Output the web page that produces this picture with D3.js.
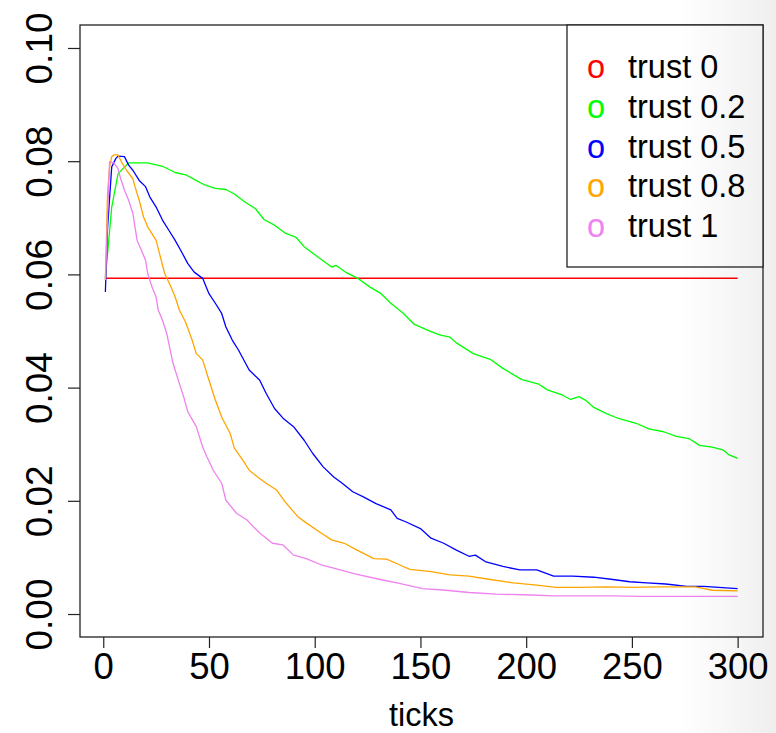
<!DOCTYPE html>
<html>
<head>
<meta charset="utf-8">
<script src="https://cdn.jsdelivr.net/npm/d3@7"></script>
<style>
  html, body { margin: 0; padding: 0; background: #fff; }
  svg { display: block; font-family: "Liberation Sans", Arial, sans-serif; }
</style>
</head>
<body>
<div id="chart"></div>
<script>
// ---------- data ----------
var legendLabels = ["trust 0", "trust 0.2", "trust 0.5", "trust 0.8", "trust 1"];
var seriesColors = ["red", "#00ff00", "blue", "orange", "violet"];

var xTickValues = [0, 50, 100, 150, 200, 250, 300];
var yTickValues = [0, 0.02, 0.04, 0.06, 0.08, 0.10];

var trust0Ticks  = [1, 300];
var trust0Values = [0.0593, 0.0593];

var trust02Ticks  = [1, 4, 7, 12, 17, 21, 28, 34, 39, 43, 48, 53, 58, 62, 67, 72, 76, 81, 86, 91, 95, 101, 108, 110, 115, 120, 126, 131, 136, 142, 147, 153, 159, 164, 167, 175, 183, 189, 198, 206, 210, 217, 221, 225, 228, 232, 238, 244, 252, 258, 265, 271, 277, 282, 288, 293, 296, 300];
var trust02Values = [0.0594, 0.0719, 0.0778, 0.0797, 0.0797, 0.0797, 0.0791, 0.0780, 0.0776, 0.0768, 0.0758, 0.0752, 0.0750, 0.0742, 0.0728, 0.0716, 0.0697, 0.0687, 0.0673, 0.0666, 0.0649, 0.0632, 0.0613, 0.0616, 0.0603, 0.0594, 0.0578, 0.0567, 0.0549, 0.0531, 0.0512, 0.0502, 0.0493, 0.0489, 0.0479, 0.0460, 0.0450, 0.0434, 0.0414, 0.0406, 0.0396, 0.0387, 0.0379, 0.0384, 0.0378, 0.0365, 0.0354, 0.0345, 0.0337, 0.0327, 0.0322, 0.0314, 0.0310, 0.0298, 0.0295, 0.0290, 0.0281, 0.0275];

var trust05Ticks  = [1, 2, 4, 6, 7, 10, 12, 14, 17, 20, 22, 25, 28, 31, 34, 37, 40, 43, 47, 50, 53, 56, 58, 61, 64, 69, 74, 77, 81, 85, 90, 95, 99, 104, 109, 113, 118, 123, 129, 136, 139, 143, 150, 155, 161, 167, 173, 176, 181, 189, 197, 205, 213, 222, 232, 241, 249, 257, 266, 276, 284, 291, 300];
var trust05Values = [0.0569, 0.0680, 0.0790, 0.0805, 0.0809, 0.0808, 0.0793, 0.0784, 0.0766, 0.0755, 0.0737, 0.0719, 0.0696, 0.0678, 0.0660, 0.0640, 0.0619, 0.0604, 0.0593, 0.0566, 0.0549, 0.0531, 0.0507, 0.0484, 0.0466, 0.0431, 0.0413, 0.0390, 0.0363, 0.0346, 0.0331, 0.0307, 0.0284, 0.0260, 0.0242, 0.0231, 0.0216, 0.0207, 0.0195, 0.0184, 0.0169, 0.0163, 0.0151, 0.0134, 0.0125, 0.0113, 0.0102, 0.0104, 0.0092, 0.0084, 0.0078, 0.0078, 0.0067, 0.0067, 0.0065, 0.0061, 0.0057, 0.0055, 0.0053, 0.0049, 0.0049, 0.0047, 0.0045];

var trust08Ticks  = [1, 2, 3, 4, 5, 7, 9, 11, 14, 15, 17, 19, 21, 25, 27, 29, 32, 34, 36, 39, 42, 44, 47, 50, 53, 56, 60, 62, 66, 69, 73, 77, 82, 86, 92, 96, 103, 108, 114, 120, 128, 134, 140, 145, 155, 164, 173, 183, 194, 205, 214, 225, 238, 251, 263, 273, 280, 288, 300];
var trust08Values = [0.0590, 0.0740, 0.0790, 0.0808, 0.0811, 0.0811, 0.0796, 0.0784, 0.0769, 0.0755, 0.0731, 0.0702, 0.0684, 0.0660, 0.0631, 0.0602, 0.0578, 0.0560, 0.0537, 0.0515, 0.0484, 0.0460, 0.0449, 0.0413, 0.0378, 0.0348, 0.0319, 0.0293, 0.0272, 0.0254, 0.0242, 0.0231, 0.0219, 0.0198, 0.0172, 0.0161, 0.0143, 0.0131, 0.0125, 0.0113, 0.0098, 0.0097, 0.0087, 0.0079, 0.0075, 0.0069, 0.0067, 0.0061, 0.0055, 0.0051, 0.0047, 0.0047, 0.0048, 0.0047, 0.0048, 0.0048, 0.0048, 0.0042, 0.0041];

var trust1Ticks  = [1, 2, 3, 5, 7, 8, 10, 12, 14, 15, 16, 18, 20, 21, 23, 25, 26, 28, 30, 33, 36, 38, 40, 44, 47, 49, 52, 56, 58, 63, 68, 71, 74, 80, 85, 90, 96, 103, 109, 119, 131, 140, 151, 162, 173, 186, 199, 213, 225, 241, 254, 269, 285, 300];
var trust1Values = [0.0590, 0.0700, 0.0799, 0.0797, 0.0787, 0.0772, 0.0749, 0.0731, 0.0708, 0.0684, 0.0660, 0.0643, 0.0625, 0.0602, 0.0578, 0.0560, 0.0537, 0.0519, 0.0496, 0.0443, 0.0407, 0.0384, 0.0357, 0.0331, 0.0295, 0.0278, 0.0254, 0.0231, 0.0201, 0.0178, 0.0166, 0.0154, 0.0143, 0.0125, 0.0122, 0.0104, 0.0098, 0.0087, 0.0081, 0.0071, 0.0061, 0.0054, 0.0045, 0.0042, 0.0038, 0.0035, 0.0034, 0.0032, 0.0032, 0.0032, 0.0031, 0.0031, 0.0031, 0.0031];

var seriesTicks  = [trust0Ticks, trust02Ticks, trust05Ticks, trust08Ticks, trust1Ticks];
var seriesValues = [trust0Values, trust02Values, trust05Values, trust08Values, trust1Values];

// ---------- layout ----------
var svgWidth = 776;
var svgHeight = 733;
var box = { left: 80, top: 25, right: 763, bottom: 637 };

var svg = d3.select("#chart").append("svg")
  .attr("width", svgWidth)
  .attr("height", svgHeight);

var xScale = d3.scaleLinear().domain([-11, 312]).range([box.left, box.right]);
var yScale = d3.scaleLinear().domain([-0.00406, 0.10406]).range([box.bottom, box.top]);

// ---------- lines ----------
var line = d3.line()
  .x(d => xScale(d.t))
  .y(d => yScale(d.v));

seriesTicks.forEach((ticks, i) => {
  var pts = ticks.map((t, j) => ({ t: t, v: seriesValues[i][j] }));
  svg.append("path")
    .datum(pts)
    .attr("fill", "none")
    .attr("stroke", seriesColors[i])
    .attr("stroke-width", i == 0 ? 1.5 : 1.3)
    .attr("stroke-linejoin", "round")
    .attr("d", line);
});

// ---------- axes ----------
var xAxis = svg.append("g")
  .attr("transform", `translate(0, ${box.bottom})`)
  .call(d3.axisBottom(xScale).tickValues(xTickValues).tickSize(11));
xAxis.select(".domain").remove();
xAxis.selectAll("line").attr("stroke", "#222").attr("stroke-width", 1.2);
xAxis.selectAll("text")
  .attr("y", 42)
  .attr("dy", 0)
  .attr("fill", "#000")
  .style("font-size", "36.5px")
  .style("font-family", "Liberation Sans, Arial, sans-serif");

var yAxis = svg.append("g")
  .attr("transform", `translate(${box.left}, 0)`)
  .call(d3.axisLeft(yScale).tickValues(yTickValues).tickSize(12).tickFormat(d3.format(".2f")));
yAxis.select(".domain").remove();
yAxis.selectAll("line").attr("stroke", "#222").attr("stroke-width", 1.2);
yAxis.selectAll("text")
  .attr("x", 0)
  .attr("dy", 0)
  .attr("text-anchor", "middle")
  .attr("transform", "translate(-28, 0) rotate(-90)")
  .attr("fill", "#000")
  .style("font-size", "37px")
  .style("font-family", "Liberation Sans, Arial, sans-serif");

// plot frame
svg.append("rect")
  .attr("x", box.left).attr("y", box.top)
  .attr("width", box.right - box.left).attr("height", box.bottom - box.top)
  .attr("fill", "none").attr("stroke", "#222").attr("stroke-width", 1.3);

// axis title
svg.append("text")
  .attr("x", (box.left + box.right) / 2)
  .attr("y", 726)
  .attr("text-anchor", "middle")
  .style("font-size", "32.5px")
  .text("ticks");

// ---------- legend ----------
var legend = svg.append("g");
legend.append("rect")
  .attr("x", 567).attr("y", box.top)
  .attr("width", box.right - 567).attr("height", 242)
  .attr("fill", "#fff").attr("stroke", "#222").attr("stroke-width", 1.3);

legendLabels.forEach((lab, i) => {
  var yb = 78 + i * 39.8;
  legend.append("text")
    .attr("x", 596).attr("y", yb)
    .attr("text-anchor", "middle")
    .attr("fill", seriesColors[i])
    .style("font-size", "32.5px")
    .text("o");
  legend.append("text")
    .attr("x", 628).attr("y", yb)
    .attr("fill", "#000")
    .style("font-size", "32.5px")
    .text(lab);
});

// soft shade on the right edge, as in the screenshot
var defs = svg.append("defs");
var grad = defs.append("linearGradient").attr("id", "shade")
  .attr("x1", "0").attr("x2", "1").attr("y1", "0").attr("y2", "0");
grad.append("stop").attr("offset", "0").attr("stop-color", "#000").attr("stop-opacity", 0);
grad.append("stop").attr("offset", "1").attr("stop-color", "#000").attr("stop-opacity", 0.065);
svg.append("rect")
  .attr("x", 680).attr("y", 0)
  .attr("width", svgWidth - 680).attr("height", svgHeight)
  .attr("fill", "url(#shade)")
  .style("pointer-events", "none");
</script>
</body>
</html>
